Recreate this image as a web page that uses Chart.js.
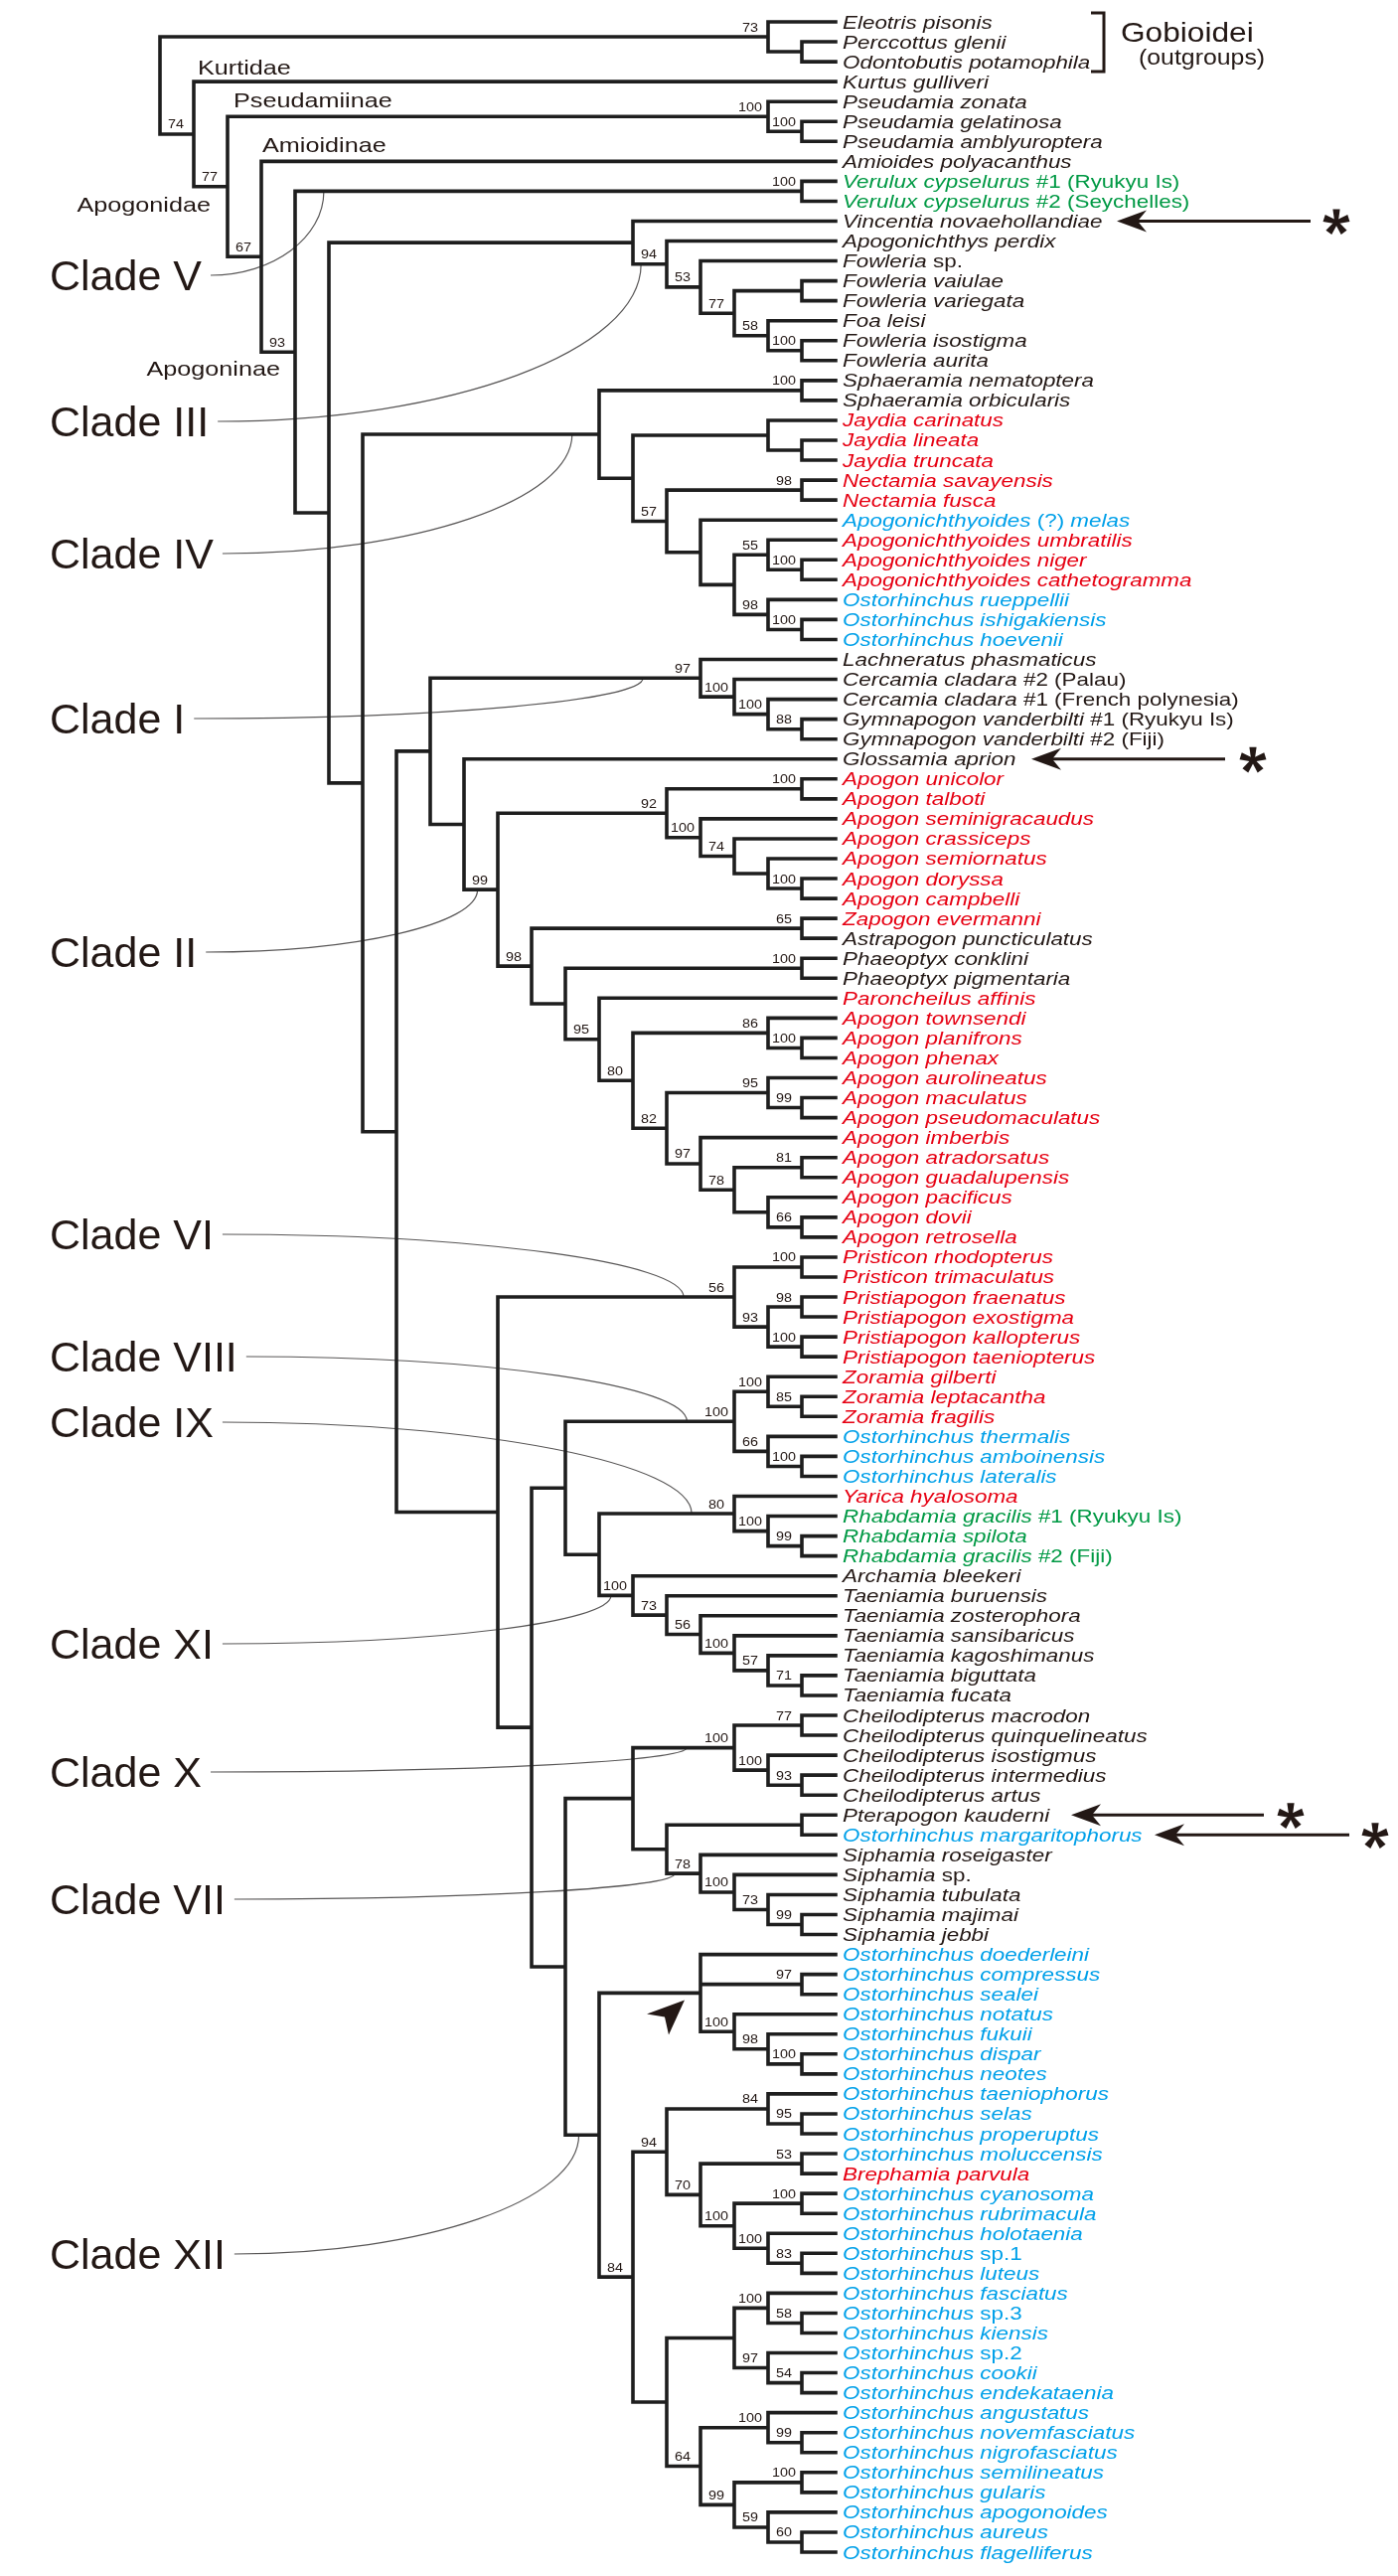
<!DOCTYPE html>
<html>
<head>
<meta charset="utf-8">
<script src="https://cdn.jsdelivr.net/npm/chart.js@4.4.1/dist/chart.umd.min.js"></script>
<style>
  html, body { margin: 0; padding: 0; background: #fff; }
  #wrap { width: 1407px; height: 2592px; }
</style>
</head>
<body>
<div id="wrap"><canvas id="tree" width="1407" height="2592"></canvas></div>
<script>
// tip labels, top to bottom
const taxa = [
  "Eleotris pisonis", "Perccottus glenii", "Odontobutis potamophila", "Kurtus gulliveri",
  "Pseudamia zonata", "Pseudamia gelatinosa", "Pseudamia amblyuroptera", "Amioides polyacanthus",
  "Verulux cypselurus #1 (Ryukyu Is)", "Verulux cypselurus #2 (Seychelles)",
  "Vincentia novaehollandiae", "Apogonichthys perdix", "Fowleria sp.", "Fowleria vaiulae", "Fowleria variegata", "Foa leisi", "Fowleria isostigma", "Fowleria aurita",
  "Sphaeramia nematoptera", "Sphaeramia orbicularis", "Jaydia carinatus", "Jaydia lineata", "Jaydia truncata", "Nectamia savayensis", "Nectamia fusca",
  "Apogonichthyoides (?) melas", "Apogonichthyoides umbratilis", "Apogonichthyoides niger", "Apogonichthyoides cathetogramma",
  "Ostorhinchus rueppellii", "Ostorhinchus ishigakiensis", "Ostorhinchus hoevenii",
  "Lachneratus phasmaticus", "Cercamia cladara #2 (Palau)", "Cercamia cladara #1 (French polynesia)", "Gymnapogon vanderbilti #1 (Ryukyu Is)", "Gymnapogon vanderbilti #2 (Fiji)",
  "Glossamia aprion", "Apogon unicolor", "Apogon talboti", "Apogon seminigracaudus", "Apogon crassiceps", "Apogon semiornatus", "Apogon doryssa", "Apogon campbelli",
  "Zapogon evermanni", "Astrapogon puncticulatus", "Phaeoptyx conklini", "Phaeoptyx pigmentaria", "Paroncheilus affinis",
  "Apogon townsendi", "Apogon planifrons", "Apogon phenax", "Apogon aurolineatus", "Apogon maculatus", "Apogon pseudomaculatus", "Apogon imberbis", "Apogon atradorsatus", "Apogon guadalupensis", "Apogon pacificus", "Apogon dovii", "Apogon retrosella",
  "Pristicon rhodopterus", "Pristicon trimaculatus", "Pristiapogon fraenatus", "Pristiapogon exostigma", "Pristiapogon kallopterus", "Pristiapogon taeniopterus",
  "Zoramia gilberti", "Zoramia leptacantha", "Zoramia fragilis", "Ostorhinchus thermalis", "Ostorhinchus amboinensis", "Ostorhinchus lateralis",
  "Yarica hyalosoma", "Rhabdamia gracilis #1 (Ryukyu Is)", "Rhabdamia spilota", "Rhabdamia gracilis #2 (Fiji)",
  "Archamia bleekeri", "Taeniamia buruensis", "Taeniamia zosterophora", "Taeniamia sansibaricus", "Taeniamia kagoshimanus", "Taeniamia biguttata", "Taeniamia fucata",
  "Cheilodipterus macrodon", "Cheilodipterus quinquelineatus", "Cheilodipterus isostigmus", "Cheilodipterus intermedius", "Cheilodipterus artus",
  "Pterapogon kauderni", "Ostorhinchus margaritophorus", "Siphamia roseigaster", "Siphamia sp.", "Siphamia tubulata", "Siphamia majimai", "Siphamia jebbi",
  "Ostorhinchus doederleini", "Ostorhinchus compressus", "Ostorhinchus sealei", "Ostorhinchus notatus", "Ostorhinchus fukuii", "Ostorhinchus dispar", "Ostorhinchus neotes",
  "Ostorhinchus taeniophorus", "Ostorhinchus selas", "Ostorhinchus properuptus", "Ostorhinchus moluccensis", "Brephamia parvula", "Ostorhinchus cyanosoma", "Ostorhinchus rubrimacula",
  "Ostorhinchus holotaenia", "Ostorhinchus sp.1", "Ostorhinchus luteus", "Ostorhinchus fasciatus", "Ostorhinchus sp.3", "Ostorhinchus kiensis", "Ostorhinchus sp.2", "Ostorhinchus cookii", "Ostorhinchus endekataenia",
  "Ostorhinchus angustatus", "Ostorhinchus novemfasciatus", "Ostorhinchus nigrofasciatus", "Ostorhinchus semilineatus", "Ostorhinchus gularis", "Ostorhinchus apogonoides", "Ostorhinchus aureus", "Ostorhinchus flagelliferus"
];

// one letter per tip: k black, r red, b blue, g green
const taxonGroup = (
  "kkkkkkkk gg kkkkkkkkkk rrrrr b rrr bbb kkkkkk rrrrrrrr kkk " +
  "rrrrrrrrrr rrrrrrrrrr rr bbb r ggg kkkkkkkkkk kkk b kkkkk " +
  "bbbbbbbbbbb r bbbbbbbbbb bbbbbbbbb"
).replace(/\s/g, "");
const groupColors = { k: "#231815", r: "#e60012", b: "#00a0e9", g: "#009944" };

// clades as newick on tip indices, bootstrap value after ")"
const gobioidei = "(0,(1,2))73";
const pseudamiinae = "(4,(5,6)100)100";
const verulux = "(8,9)100";
const cladeIII = "(10,(11,(12,((13,14),(15,(16,17)100)58)77)53)94)";
const cladeIV = "((18,19)100,((20,(21,22)),((23,24)98,(25,((26,(27,28)100)55,(29,(30,31)100)98)))57))";
const cladeI = "(32,(33,(34,(35,36)88)100)100)97";
const cladeII = "(((38,39)100,(40,(41,(42,(43,44)100))74)100)92,((45,46)65,((47,48)100,(49,((50,(51,52)100)86,((53,(54,55)99)95,(56,((57,58)81,(59,(60,61)66))78)97)82)80)95))98)99";
const cladeVI = "((62,63)100,((64,65)98,(66,67)100)93)56";
const cladeVIII = "((68,(69,70)85)100,(71,(72,73)100)66)100";
const cladeIX = "(74,(75,(76,77)99)100)80";
const cladeXI = "(78,(79,(80,(81,(82,(83,84)71)57)100)56)73)100";
const cladeX = "((85,86)77,(87,(88,89)93)100)100";
const cladeVII = "(92,(93,(94,(95,96)99)73)100)78";
const cladeXII = "((97,(98,99)97,(100,(101,(102,103)100)98)100),(((104,(105,106)95)84,((107,108)53,((109,110)100,(111,(112,113)83)100)100)70)94,(((114,(115,116)58)100,(117,(118,119)54)97),((120,(121,122)99)100,((123,124)100,(125,(126,127)60)59)99)64))84)";

const treeNewick = `(${gobioidei},(3,(${pseudamiinae},(7,(${verulux},(${cladeIII},(${cladeIV},((${cladeI},(37,${cladeII})),(${cladeVI},((${cladeVIII},(${cladeIX},${cladeXI})),((${cladeX},((90,91),${cladeVII})),${cladeXII})))))))93)67)77)74)`;

const cladeNames = ["Clade V", "Clade III", "Clade IV", "Clade I", "Clade II", "Clade VI", "Clade VIII", "Clade IX", "Clade XI", "Clade X", "Clade VII", "Clade XII"];
const cladeSpans = [[8, 9], [11, 17], [18, 31], [32, 36], [38, 61], [62, 67], [68, 73], [74, 77], [78, 84], [85, 89], [92, 96], [97, 127]];
const flaggedTips = [10, 37, 90, 91]; // taxa marked with arrow + asterisk

// ---- layout only (pixels / depth units), not data ----
const cladeTextBaseline = [292, 439, 572, 738, 973, 1257, 1380, 1446, 1669, 1798, 1926, 2283];
const cladeLineEndDepth = [15.15, 5.76, 7.8, 5.7, 10.6, 4.5, 4.4, 4.26, 6.65, 4.4, 4.76, 7.6];
const arrowTipX = [1124, 1038, 1078, 1162];
const arrowTailX = [1319, 1233, 1272, 1358];
const starX = [1345, 1261, 1299, 1384];

const FONT = '"Liberation Sans", Arial, Helvetica, sans-serif';
const INK = "#231815";

function parseNewick(s) {
  let i = 0;
  function readNum() {
    let t = "";
    while (i < s.length && /[0-9]/.test(s[i])) t += s[i++];
    return t;
  }
  function node() {
    const n = { children: [] };
    if (s[i] === "(") {
      i++;
      n.children.push(node());
      while (s[i] === ",") { i++; n.children.push(node()); }
      i++;
      n.support = readNum();
    } else {
      n.leaf = +readNum();
    }
    return n;
  }
  return node();
}

function layout(n) {
  if (n.leaf !== undefined) {
    n.h = 0; n.y = n.leaf; n.lo = n.hi = n.leaf;
    return;
  }
  n.children.forEach(layout);
  const first = n.children[0], last = n.children[n.children.length - 1];
  n.h = 1 + Math.max(...n.children.map((c) => c.h));
  n.y = (first.y + last.y) / 2;
  n.lo = first.lo; n.hi = last.hi;
}

const root = parseNewick(treeNewick);
layout(root);

const nodes = [];
const treePoints = [];
const GAP = { x: null, y: null };
(function walk(n) {
  if (n.leaf !== undefined) return;
  nodes.push(n);
  const first = n.children[0], last = n.children[n.children.length - 1];
  treePoints.push({ x: first.h, y: first.y }, { x: n.h, y: first.y }, { x: n.h, y: last.y }, { x: last.h, y: last.y }, GAP);
  n.children.slice(1, -1).forEach((c) => treePoints.push({ x: n.h, y: c.y }, { x: c.h, y: c.y }, GAP));
  n.children.forEach(walk);
})(root);

function findNode(span) {
  return nodes.find((n) => n.lo === span[0] && n.hi === span[1]);
}

function nameParts(name) {
  let m;
  if ((m = name.match(/^(.*?)( #.*)$/))) return [[m[1], true], [m[2], false]];
  if ((m = name.match(/^(\S+)( \(\?\) )(.*)$/))) return [[m[1], true], [m[2], false], [m[3], true]];
  if ((m = name.match(/^(\S+)( sp\.\d*)$/))) return [[m[1], true], [m[2], false]];
  return [[name, true]];
}

function stretchedText(ctx, parts, x, y, size, sx, align) {
  ctx.save();
  ctx.translate(x, y);
  ctx.scale(sx, 1);
  let total = 0;
  parts.forEach(([t, it]) => {
    ctx.font = `${it ? "italic " : ""}${size}px ${FONT}`;
    total += ctx.measureText(t).width;
  });
  let cx = align === "right" ? -total : align === "center" ? -total / 2 : 0;
  ctx.textAlign = "left";
  parts.forEach(([t, it]) => {
    ctx.font = `${it ? "italic " : ""}${size}px ${FONT}`;
    ctx.fillText(t, cx, 0);
    cx += ctx.measureText(t).width;
  });
  ctx.restore();
}

function drawStar(ctx, cx, cy, r) {
  for (let k = 0; k < 5; k++) {
    const a = -Math.PI / 2 + (k * 2 * Math.PI) / 5;
    const ux = Math.cos(a), uy = Math.sin(a), px = -uy, py = ux;
    ctx.beginPath();
    ctx.moveTo(cx + px * 1.8, cy + py * 1.8);
    ctx.lineTo(cx + ux * r + px * 3.6, cy + uy * r + py * 3.6);
    ctx.lineTo(cx + ux * r - px * 3.6, cy + uy * r - py * 3.6);
    ctx.lineTo(cx - px * 1.8, cy - py * 1.8);
    ctx.closePath();
    ctx.fill();
  }
}

function drawArrow(ctx, tipX, tailX, y) {
  ctx.lineWidth = 3;
  ctx.beginPath();
  ctx.moveTo(tipX + 18, y);
  ctx.lineTo(tailX, y);
  ctx.stroke();
  ctx.beginPath();
  ctx.moveTo(tipX, y);
  ctx.lineTo(tipX + 30, y - 11);
  ctx.lineTo(tipX + 21, y);
  ctx.lineTo(tipX + 30, y + 11);
  ctx.closePath();
  ctx.fill();
}

const treeDecor = {
  id: "treeDecor",
  beforeDatasetsDraw(chart) {
    const { ctx, scales: { x, y } } = chart;
    ctx.save();
    ctx.strokeStyle = "#595757";
    ctx.lineWidth = 1.2;
    ctx.font = `43px ${FONT}`;
    cladeNames.forEach((name, k) => {
      const node = findNode(cladeSpans[k]);
      const x0 = 50 + ctx.measureText(name).width + 9;
      const y0 = cladeTextBaseline[k] - 15;
      const x1 = x.getPixelForValue(cladeLineEndDepth[k]);
      const y1 = y.getPixelForValue(node.y);
      const c = 0.552;
      ctx.beginPath();
      ctx.moveTo(x0, y0);
      ctx.bezierCurveTo(x0 + c * (x1 - x0), y0, x1, y1 - c * (y1 - y0), x1, y1);
      ctx.stroke();
    });
    ctx.restore();
  },
  afterDatasetsDraw(chart) {
    const { ctx, scales: { x, y } } = chart;
    const tipX = x.getPixelForValue(0);
    ctx.save();
    ctx.textBaseline = "alphabetic";

    // tip names
    taxa.forEach((name, i) => {
      ctx.fillStyle = groupColors[taxonGroup[i]];
      stretchedText(ctx, nameParts(name), tipX + 7, y.getPixelForValue(i) + 6.5, 19, 1.18, "left");
    });

    // bootstrap values
    ctx.fillStyle = INK;
    nodes.forEach((n) => {
      if (!n.support) return;
      stretchedText(ctx, [[n.support, false]], x.getPixelForValue(n.h) - 18, y.getPixelForValue(n.y) - 5.5, 12.5, 1.15, "center");
    });

    // clade names
    ctx.font = `43px ${FONT}`;
    ctx.textAlign = "left";
    cladeNames.forEach((name, k) => ctx.fillText(name, 50, cladeTextBaseline[k]));

    // family / subfamily names
    const nB = findNode([3, 127]), nC = findNode([4, 127]), nD = findNode([7, 127]), nE = findNode([8, 127]);
    const nPs = findNode([4, 6]);
    stretchedText(ctx, [["Kurtidae", false]], x.getPixelForValue(nB.h) + 4, y.getPixelForValue(3) - 7, 21, 1.2, "left");
    stretchedText(ctx, [["Pseudamiinae", false]], x.getPixelForValue(nC.h) + 6, y.getPixelForValue(nPs.y) - 9, 21, 1.2, "left");
    stretchedText(ctx, [["Amioidinae", false]], x.getPixelForValue(nD.h) + 1, y.getPixelForValue(7) - 9, 21, 1.2, "left");
    stretchedText(ctx, [["Apogonidae", false]], x.getPixelForValue(nC.h) - 17, y.getPixelForValue(nC.y) + 25, 21, 1.2, "right");
    stretchedText(ctx, [["Apogoninae", false]], x.getPixelForValue(nE.h) - 15, y.getPixelForValue(nE.y) + 24, 21, 1.2, "right");

    // outgroup bracket
    const yTop = y.getPixelForValue(0) - 9, yBot = y.getPixelForValue(2) + 10;
    ctx.strokeStyle = INK;
    ctx.lineWidth = 3;
    ctx.beginPath();
    ctx.moveTo(1098, yTop); ctx.lineTo(1111, yTop); ctx.lineTo(1111, yBot); ctx.lineTo(1098, yBot);
    ctx.stroke();
    stretchedText(ctx, [["Gobioidei", false]], 1128, 42, 28, 1.13, "left");
    stretchedText(ctx, [["(outgroups)", false]], 1146, 65, 22, 1.13, "left");

    // arrows + asterisks
    ctx.fillStyle = INK;
    ctx.strokeStyle = INK;
    flaggedTips.forEach((tip, k) => {
      const py = y.getPixelForValue(tip);
      drawArrow(ctx, arrowTipX[k], arrowTailX[k], py);
      drawStar(ctx, starX[k], py + 1, 13);
    });

    // arrowhead pointing at the Clade XII basal trichotomy
    const nO = findNode([97, 103]);
    const ox = x.getPixelForValue(nO.h), oy = y.getPixelForValue(nO.y);
    ctx.fillStyle = "#231815";
    ctx.beginPath();
    ctx.moveTo(ox - 16, oy + 7);
    ctx.lineTo(ox - 54, oy + 21);
    ctx.lineTo(ox - 36, oy + 24);
    ctx.lineTo(ox - 32, oy + 42);
    ctx.closePath();
    ctx.fill();
    ctx.restore();
  }
};

new Chart(document.getElementById("tree"), {
  type: "line",
  data: {
    datasets: [
      {
        data: treePoints,
        borderColor: "#1e1e1e",
        borderWidth: 3.6,
        pointRadius: 0,
        pointHoverRadius: 0,
        tension: 0,
        spanGaps: false,
        fill: false,
        borderJoinStyle: "miter",
        borderCapStyle: "square",
        clip: false
      }
    ]
  },
  options: {
    responsive: false,
    animation: false,
    events: [],
    layout: { padding: { left: 161, right: 566, top: 22, bottom: 24 } },
    scales: {
      x: { type: "linear", reverse: true, min: 0, max: 20, display: false },
      y: { type: "linear", reverse: true, min: 0, max: 127, display: false }
    },
    plugins: { legend: { display: false }, tooltip: { enabled: false } }
  },
  plugins: [treeDecor]
});
</script>
</body>
</html>
